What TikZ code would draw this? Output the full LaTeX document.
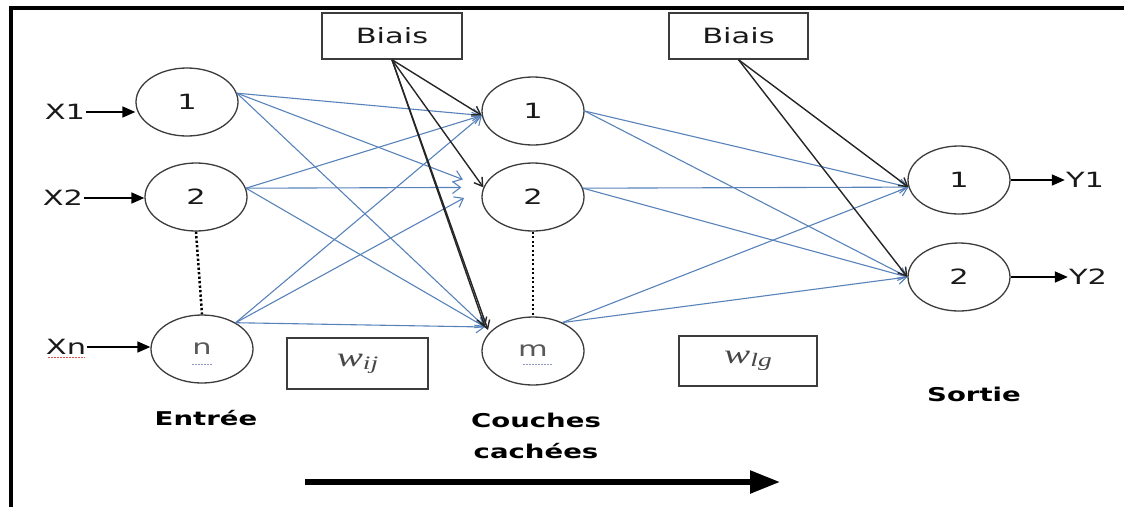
\documentclass[tikz,border=0pt]{standalone}
\usepackage{fontspec}
\setmainfont{DejaVu Sans}
\newfontfamily\weightfont{Liberation Serif}
\usetikzlibrary{shapes.geometric,arrows.meta,calc}
% the whole figure is set with horizontally widened lettering
\newcommand\wide[1]{\scalebox{1.45}[1]{#1}}
% italic weight symbol with a lowered index
\newcommand\wsym[1]{{\weightfont\itshape w\raisebox{-3pt}{\fontsize{19}{20}\selectfont #1}}}
\definecolor{linkblue}{RGB}{88,130,186}
\definecolor{biasdark}{RGB}{38,38,38}
\definecolor{rimgray}{RGB}{60,60,60}
\definecolor{spellred}{RGB}{220,80,80}
\definecolor{spellblue}{RGB}{140,150,190}

\begin{document}
\begin{tikzpicture}[x=1pt,y=-1pt,
  neuron/.style={ellipse, draw=rimgray, line width=1.3pt, minimum width=102pt,
    minimum height=68pt, inner sep=0pt, font=\fontsize{21}{24}\selectfont, text=black!90},
  tagbox/.style={draw=rimgray, line width=1.4pt, inner sep=0pt},
  iolabel/.style={inner sep=1pt, font=\fontsize{21}{24}\selectfont, text=black!90},
  wlabel/.style={font=\fontsize{27}{30}\selectfont, text=black!72},
  layername/.style={inner sep=0pt, font=\bfseries\fontsize{19}{31}\selectfont, align=center},
  weight/.style={-{Straight Barb[length=8pt,width=12pt]}, draw=linkblue, line width=1.1pt},
  biaslink/.style={-{Straight Barb[length=8pt,width=10pt]}, draw=biasdark, line width=1.4pt},
  feed/.style={-{Triangle[length=13pt,width=11pt]}, line width=1.7pt},
  ellipsis/.style={line width=2.5pt, dash pattern=on 2.3pt off 2.2pt},
  squiggle/.style={line width=1pt, dash pattern=on 1.5pt off 1.5pt}
]
\useasboundingbox (0,0) rectangle (1124,507);

% frame
\draw[line width=4pt] (10.5,507) -- (10.5,7.5) -- (1124,7.5);

% input layer
\node[neuron] (i1) at (187,102) {\wide{1}};
\node[neuron] (i2) at (196,197) {\wide{2}};
\node[neuron, text=black!65] (in) at (202,349) {\wide{n}};

% hidden layer
\node[neuron] (h1) at (533,111) {\wide{1}};
\node[neuron] (h2) at (533,197) {\wide{2}};
\node[neuron, text=black!65] (hm) at (533,351) {\wide{m}};

% output layer
\node[neuron] (o1) at (959,180) {\wide{1}};
\node[neuron] (o2) at (959,277) {\wide{2}};

% bias and weight boxes
\node[tagbox, minimum width=140pt, minimum height=46pt, iolabel] (b1) at (392,36) {\wide{Biais}};
\node[tagbox, minimum width=139pt, minimum height=46pt, iolabel] (b2) at (738.5,36) {\wide{Biais}};
\node[tagbox, minimum width=141pt, minimum height=51pt, wlabel] (wij) at (357.5,363.5) {\wide{\wsym{ij}}};
\node[tagbox, minimum width=138pt, minimum height=50pt, wlabel] (wlg) at (748,361) {\wide{\wsym{lg}}};

% inputs and outputs
\node[iolabel] (x1) at (65,112) {\wide{X1}};
\node[iolabel] (x2) at (63,198) {\wide{X2}};
\node[iolabel] (xn) at (66,347) {\wide{Xn}};
\node[iolabel] (y1) at (1085,180) {\wide{Y1}};
\node[iolabel] (y2) at (1088,277) {\wide{Y2}};

\draw[feed] (x1.east) -- (x1 -| i1.west);
\draw[feed] (x2.east) -- (x2 -| i2.west);
\draw[feed] (xn.east) -- (xn -| in.west);
\draw[feed] (o1.east) -- (y1.west);
\draw[feed] (o2.east) -- (y2.west);

% proofing marks under a few words
\draw[squiggle, spellred] (48,357) -- (85,357);
\draw[squiggle, spellblue] (192,364) -- (212,364);
\draw[squiggle, spellblue] (523,364) -- (553,364);

% elided neurons
\draw[ellipsis] (i2.south) -- (in.north);
\draw[ellipsis] (h2.south) -- (hm.north);

% arrow tip points beside the last hidden neuron
\coordinate (hm-tip) at (485,327);
\coordinate (hm-tip2) at (488,330);

% input -> hidden weights
\draw[weight] (i1.10) -- (h1.185);
\draw[weight, shorten >=22pt] (i1.10) -- (h2.169);
\draw[weight] (i1.10) -- (hm-tip);
\draw[weight] (i2.10) -- (h1.185);
\draw[weight, shorten >=22pt] (i2.10) -- (h2.169);
\draw[weight] (i2.10) -- (hm-tip);
\draw[weight] (in.38) -- (h1.185);
\draw[weight, shorten >=22pt] (in.38) -- (h2.169);
\draw[weight] (in.38) -- (hm-tip);

% hidden -> output weights
\draw[weight] (h1.east) -- (o1.188);
\draw[weight] (h1.east) -- (o2.west);
\draw[weight] (h2.10) -- (o1.188);
\draw[weight] (h2.10) -- (o2.west);
\draw[weight] (hm.44) -- (o1.188);
\draw[weight] (hm.44) -- (o2.west);

% bias links
\draw[biaslink] (b1.south) -- (h1.185);
\draw[biaslink] (b1.south) -- (h2.169);
\draw[biaslink] (b1.south) -- (hm-tip);
\draw[biaslink] (b1.south) -- (hm-tip2);
\draw[biaslink] (b2.south) -- (o1.188);
\draw[biaslink] (b2.south) -- (o2.west);

% layer names
\node[layername] (entree) at (206,418) {\wide{Entrée}};
\node[layername] (cachees) at (536,436) {\wide{Couches}\\\wide{cachées}};
\node[layername] (sortie) at (974,394) {\wide{Sortie}};

% direction of propagation
\coordinate (flow-start) at (305,482);
\coordinate (flow-end) at (780,482);
\draw[line width=5.5pt, -{Triangle[length=30pt,width=22pt]}] (flow-start) -- (flow-end);
\end{tikzpicture}
\end{document}
